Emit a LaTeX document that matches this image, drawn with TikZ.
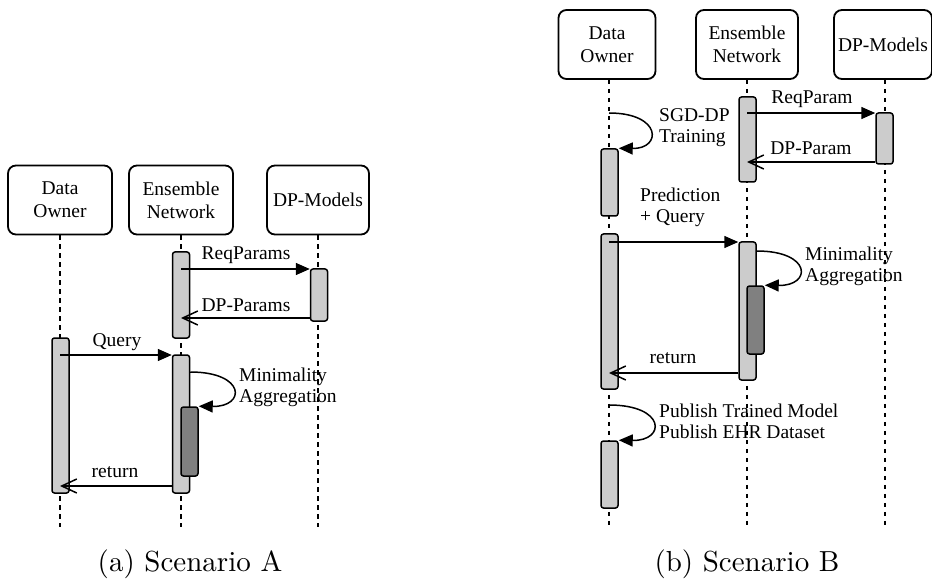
\documentclass[tikz,border=0pt]{standalone}
\usepackage{fontspec}
\newfontfamily\diagfont{Liberation Serif}
\newfontfamily\capfont{lmroman10-regular}[Extension=.otf]
\usetikzlibrary{arrows.meta}
\definecolor{actfill}{HTML}{CCCCCC}
\definecolor{innerfill}{HTML}{808080}

\begin{document}
\begin{tikzpicture}[x=1pt,y=-1pt,
  actor/.style={draw, line width=1.8pt, rounded corners=8pt, minimum height=69pt,
    inner sep=0pt, align=center, font=\diagfont\fontsize{19.5}{23}\selectfont},
  bar/.style={draw, fill=actfill, line width=1.5pt, rounded corners=2.5pt,
    minimum width=17pt, inner sep=0pt},
  innerbar/.style={bar, fill=innerfill},
  life/.style={line width=1.5pt, dash pattern=on 4.5pt off 4.5pt},
  call/.style={line width=1.5pt, -{Triangle[length=14pt,width=12pt]}},
  reply/.style={line width=1.5pt, -{Straight Barb[length=15pt,width=14pt,line width=1.5pt]}},
  lbl/.style={font=\diagfont\fontsize{19.5}{21}\selectfont, inner sep=0pt, align=left},
  captext/.style={font=\capfont\fontsize{29}{34}\selectfont, inner sep=0pt}]
\useasboundingbox (0,0) rectangle (932,580);

% ---------------- Scenario A ----------------
\node[actor, minimum width=104pt] (ownA) at (60,200) {Data\\Owner};
\node[actor, minimum width=104pt] (ensA) at (181,200) {Ensemble\\Network};
\node[actor, minimum width=102pt] (dpmA) at (318,200) {DP-Models};

\coordinate (ownAend) at (60,527);
\coordinate (ensAend) at (181,527);
\coordinate (dpmAend) at (318,527);
\draw[life] (ownA.south) -- (ownAend);
\draw[life] (ensA.south) -- (ensAend);
\draw[life] (dpmA.south) -- (dpmAend);

\node[bar, minimum height=86pt]  (ensA1) at (181,295) {};
\node[bar, minimum height=52pt]  (dpmA1) at (319,295) {};
\node[bar, minimum height=155pt] (ownA1) at (60.5,415.5) {};
\node[bar, minimum height=138pt] (ensA2) at (181,424) {};
\node[innerbar, minimum height=69pt] (aggA) at (189.5,441.5) {};

\coordinate (reqA) at (181,269);
\draw[call] (reqA) -- (dpmA1.west |- reqA);
\node[lbl] (reqAl) at (246,255) {ReqParams};

\coordinate (dpA) at (181,318);
\draw[reply] (dpmA1.west |- dpA) -- (dpA);
\node[lbl] (dpAl) at (246,305) {DP-Params};

\coordinate (qA) at (60,355);
\draw[call] (qA) -- (ensA2.west |- qA);
\node[lbl] (qAl) at (117,342) {Query};

\coordinate (minA) at (190,372);
\draw[call] (ensA2.east |- minA) .. controls (246,372) and (246,407) .. (aggA.north east);
\node[lbl, anchor=west] (minAl) at (239,387.5) {Minimality\\Aggregation};

\coordinate (retA) at (60,486);
\draw[reply] (ensA2.west |- retA) -- (retA);
\node[lbl] (retAl) at (115,472) {return};

\node[captext] (capA) at (190,564) {(a) Scenario A};

% ---------------- Scenario B ----------------
\node[actor, minimum width=97pt]  (ownB) at (607,44.5) {Data\\Owner};
\node[actor, minimum width=102pt] (ensB) at (747,44.5) {Ensemble\\Network};
\node[actor, minimum width=98pt]  (dpmB) at (883,44.5) {DP-Models};

\coordinate (ownBend) at (609,526);
\coordinate (ensBend) at (747,526);
\coordinate (dpmBend) at (885,526);
\draw[life] (ownB.south -| ownBend) -- (ownBend);
\draw[life] (ensB.south) -- (ensBend);
\draw[life] (dpmB.south -| dpmBend) -- (dpmBend);

\node[bar, minimum height=85pt]  (ensB1) at (747.5,139.5) {};
\node[bar, minimum height=51pt]  (dpmB1) at (884.5,138.5) {};
\node[bar, minimum height=67pt]  (ownB1) at (609.5,182.5) {};
\node[bar, minimum height=155pt] (ownB2) at (609.5,311.5) {};
\node[bar, minimum height=138pt] (ensB2) at (747.5,311) {};
\node[innerbar, minimum height=68pt] (aggB) at (755.5,320) {};
\node[bar, minimum height=67pt]  (ownB3) at (609.5,474.5) {};

\coordinate (reqB) at (747,113);
\draw[call] (reqB) -- (dpmB1.west |- reqB);
\node[lbl] (reqBl) at (812,99) {ReqParam};

\coordinate (dpB) at (747,162);
\draw[reply] (dpmB1.west |- dpB) -- (dpB);
\node[lbl] (dpBl) at (811,148) {DP-Param};

\coordinate (sgdB) at (609,113);
\draw[call] (sgdB) .. controls (662,113) and (662,149) .. (ownB1.north east);
\node[lbl, anchor=west] (sgdBl) at (659,128) {SGD-DP\\Training};

\coordinate (qB) at (609,242);
\draw[call] (qB) -- (ensB2.west |- qB);
\node[lbl, anchor=west] (qBl) at (640,207) {Prediction\\+ Query};

\coordinate (minB) at (756,251);
\draw[call] (ensB2.east |- minB) .. controls (812,251) and (812,286) .. (aggB.north east);
\node[lbl, anchor=west] (minBl) at (805,266) {Minimality\\Aggregation};

\coordinate (retB) at (609,373);
\draw[reply] (ensB2.west |- retB) -- (retB);
\node[lbl] (retBl) at (673,358) {return};

\coordinate (pubB) at (609,405);
\draw[call] (pubB) .. controls (666,405) and (666,441) .. (ownB3.north east);
\node[lbl, anchor=west] (pubBl) at (659,421) {Publish Trained Model\\Publish EHR Dataset};

\node[captext] (capB) at (747,564) {(b) Scenario B};
\end{tikzpicture}
\end{document}
